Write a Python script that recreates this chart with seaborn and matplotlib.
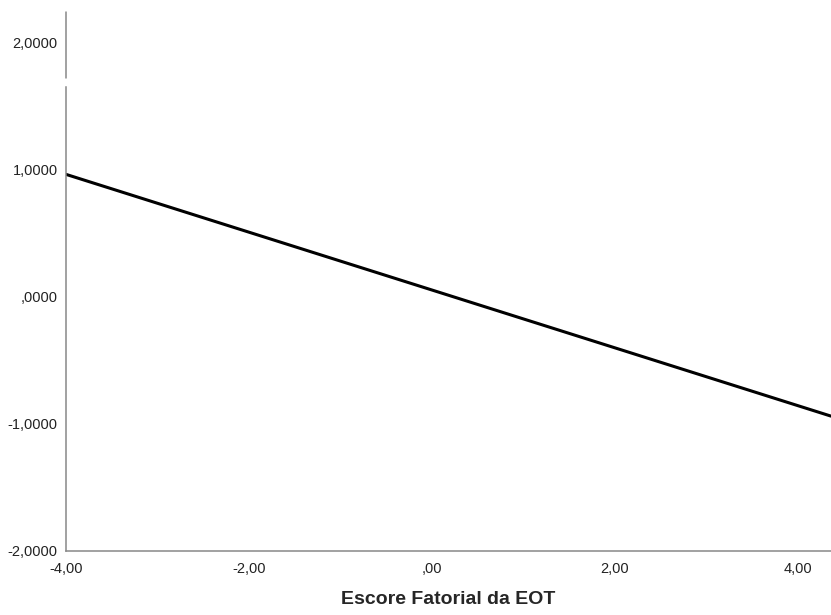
import numpy as np
import pandas as pd
import seaborn as sns
import matplotlib.pyplot as plt
from matplotlib.ticker import FuncFormatter

# values
escore = [-4.0, 4.36]
efeito = [0.96, -0.94]
x_ticks = [-4, -2, 0, 2, 4]
y_ticks = [-2, -1, 0, 1, 2]


def spss_fmt(decimals):
    def fmt(v, pos):
        s = f"{abs(v):.{decimals}f}".replace(".", ",")
        if s.startswith("0,"):
            s = s[1:]
        if v < 0 and float(s.replace(",", ".") or 0) != 0:
            s = "-" + s
        return s
    return fmt


df = pd.DataFrame({"x": escore, "y": efeito})

sns.set_theme(style="white")
plt.rcParams['font.family'] = ['Liberation Sans', 'DejaVu Sans']

fig = plt.figure(figsize=(8.31, 6.15), dpi=100)
ax = fig.add_axes([66 / 831, 64 / 615, 1 - 66 / 831, (551 - 12) / 615])

sns.lineplot(data=df, x="x", y="y", color="black", linewidth=2.2, ax=ax)

ax.set_xlim(-4, 4.36)
ax.set_ylim(-2, 2.236)
ax.set_xticks(x_ticks)
ax.set_yticks(y_ticks)
ax.xaxis.set_major_formatter(FuncFormatter(spss_fmt(2)))
ax.yaxis.set_major_formatter(FuncFormatter(spss_fmt(4)))
ax.tick_params(axis="both", length=0, labelsize=10.5, colors="#222222")
ax.tick_params(axis="x", pad=8)
ax.tick_params(axis="y", pad=6)

for side in ["top", "right"]:
    ax.spines[side].set_visible(False)
for side in ["left", "bottom"]:
    ax.spines[side].set_color("#888888")
    ax.spines[side].set_linewidth(1.1)

# SPSS draws the y axis with a small break near the top
ax.spines["left"].set_bounds(-2, 1.65)
ax.plot([-4, -4], [1.72, 2.236], color="#888888", linewidth=1.1, clip_on=False)

ax.set_xlabel("Escore Fatorial da EOT", fontsize=14, fontweight="bold", labelpad=11)
ax.set_ylabel("")

fig.savefig("out.png", dpi=100)
